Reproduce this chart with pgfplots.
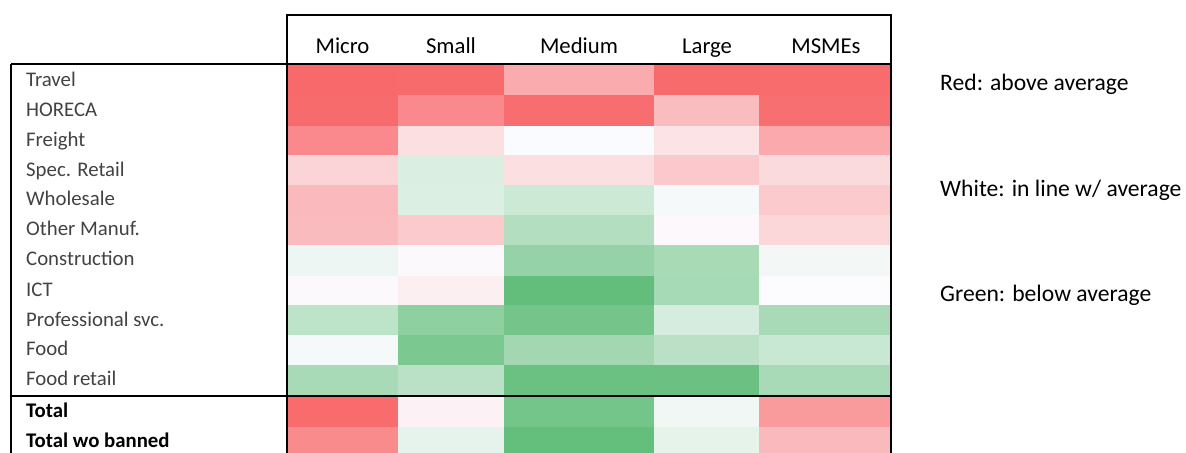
\documentclass[border=0pt]{standalone}
\usepackage{fontspec}
\setmainfont{Carlito}
\usepackage{pgfplots}
\pgfplotsset{compat=1.18}
\tikzset{
  hd/.style={inner sep=0pt, font=\fontsize{22.7bp}{27bp}\selectfont},
  nt/.style={inner sep=0pt, anchor=base west, font=\fontsize{23.6bp}{28bp}\selectfont},
  rl/.style={anchor=base west, inner sep=0pt, text=black!74, font=\fontsize{20.8bp}{25bp}\selectfont},
  rb/.style={anchor=base west, inner sep=0pt, text=black, font=\fontsize{20.8bp}{25bp}\selectfont\bfseries},
}
\begin{document}
\begin{tikzpicture}
\begin{axis}[
  name=ax, at={(0,0)}, anchor=south west,
  width=1186bp, height=452bp, scale only axis,
  xmin=0, xmax=1186, ymin=0, ymax=452, y dir=reverse,
  hide axis,
  colormap={rwg}{rgb255=(99,190,123) rgb255=(252,252,255) rgb255=(248,105,107)},
  point meta min=-1, point meta max=1,
]
% cells: indices of the 4 corners (grid of 6 x 14 vertices) and the value
\addplot [patch, patch type=rectangle, shader=flat, table/row sep=\\,
  patch table with point meta={
   0  1  7  6  1.00\\  1  2  8  7  0.99\\  2  3  9  8  0.55\\  3  4 10  9  0.99\\  4  5 11 10  0.98\\
   6  7 13 12  0.99\\  7  8 14 13  0.78\\  8  9 15 14  0.97\\  9 10 16 15  0.43\\ 10 11 17 16  0.96\\
  12 13 19 18  0.78\\ 13 14 20 19  0.20\\ 14 15 21 20 -0.01\\ 15 16 22 21  0.17\\ 16 17 23 22  0.56\\
  18 19 25 24  0.27\\ 19 20 26 25 -0.22\\ 20 21 27 26  0.20\\ 21 22 28 27  0.35\\ 22 23 29 28  0.23\\
  24 25 31 30  0.45\\ 25 26 32 31 -0.21\\ 26 27 33 32 -0.31\\ 27 28 34 33 -0.04\\ 28 29 35 34  0.34\\
  30 31 37 36  0.44\\ 31 32 38 37  0.34\\ 32 33 39 38 -0.48\\ 33 34 40 39  0.03\\ 34 35 41 40  0.25\\
  36 37 43 42 -0.09\\ 37 38 44 43  0.02\\ 38 39 45 44 -0.67\\ 39 40 46 45 -0.55\\ 40 41 47 46 -0.06\\
  42 43 49 48  0.02\\ 43 44 50 49  0.09\\ 44 45 51 50 -1.00\\ 45 46 52 51 -0.56\\ 46 47 53 52  0.00\\
  48 49 55 54 -0.41\\ 49 50 56 55 -0.71\\ 50 51 57 56 -0.88\\ 51 52 58 57 -0.25\\ 52 53 59 58 -0.54\\
  54 55 61 60 -0.04\\ 55 56 62 61 -0.84\\ 56 57 63 62 -0.59\\ 57 58 64 63 -0.43\\ 58 59 65 64 -0.33\\
  60 61 67 66 -0.54\\ 61 62 68 67 -0.43\\ 62 63 69 68 -0.95\\ 63 64 70 69 -0.95\\ 64 65 71 70 -0.54\\
  66 67 73 72  0.98\\ 67 68 74 73  0.07\\ 68 69 75 74 -0.89\\ 69 70 76 75 -0.08\\ 70 71 77 76  0.67\\
  72 73 79 78  0.77\\ 73 74 80 79 -0.14\\ 74 75 81 80 -0.99\\ 75 76 82 81 -0.15\\ 76 77 83 82  0.45\\
  }]
  table {
  x y\\
  287 64\\ 398 64\\ 504 64\\ 654 64\\ 759 64\\ 891 64\\
  287 95\\ 398 95\\ 504 95\\ 654 95\\ 759 95\\ 891 95\\
  287 126\\ 398 126\\ 504 126\\ 654 126\\ 759 126\\ 891 126\\
  287 155\\ 398 155\\ 504 155\\ 654 155\\ 759 155\\ 891 155\\
  287 185.5\\ 398 185.5\\ 504 185.5\\ 654 185.5\\ 759 185.5\\ 891 185.5\\
  287 215\\ 398 215\\ 504 215\\ 654 215\\ 759 215\\ 891 215\\
  287 245\\ 398 245\\ 504 245\\ 654 245\\ 759 245\\ 891 245\\
  287 276\\ 398 276\\ 504 276\\ 654 276\\ 759 276\\ 891 276\\
  287 305\\ 398 305\\ 504 305\\ 654 305\\ 759 305\\ 891 305\\
  287 335\\ 398 335\\ 504 335\\ 654 335\\ 759 335\\ 891 335\\
  287 365\\ 398 365\\ 504 365\\ 654 365\\ 759 365\\ 891 365\\
  287 395.7\\ 398 395.7\\ 504 395.7\\ 654 395.7\\ 759 395.7\\ 891 395.7\\
  287 426.7\\ 398 426.7\\ 504 426.7\\ 654 426.7\\ 759 426.7\\ 891 426.7\\
  287 458\\ 398 458\\ 504 458\\ 654 458\\ 759 458\\ 891 458\\
  };
% header labels
\node[hd, anchor=base] at (axis cs:342.5,53.5) {Micro};
\node[hd, anchor=base] at (axis cs:451,53.5) {Small};
\node[hd, anchor=base] at (axis cs:579,53.5) {Medium};
\node[hd, anchor=base] at (axis cs:707,53.5) {Large};
\node[hd, anchor=base] at (axis cs:826,53.5) {MSMEs};
\node[nt] at (axis cs:940,90.5) {Red: above average};
\node[nt] at (axis cs:940,196) {White: in line w/ average};
\node[nt] at (axis cs:940,301.5) {Green: below average};
% row labels
\node[rl] at (axis cs:26,86.5) {Travel};
\node[rl] at (axis cs:26,116.5) {HORECA};
\node[rl] at (axis cs:26,146.5) {Freight};
\node[rl] at (axis cs:26,176.5) {Spec. Retail};
\node[rl] at (axis cs:26,205.5) {Wholesale};
\node[rl] at (axis cs:26,235.5) {Other Manuf.};
\node[rl] at (axis cs:26,265.5) {Construction};
\node[rl] at (axis cs:26,296.5) {ICT};
\node[rl] at (axis cs:26,326.5) {Professional svc.};
\node[rl] at (axis cs:26,355.5) {Food};
\node[rl] at (axis cs:26,385.5) {Food retail};
\node[rb] at (axis cs:26,417) {Total};
\node[rb] at (axis cs:26,447) {Total wo banned};
% borders
\draw[line width=2bp] (axis cs:287,460) -- (axis cs:287,15) -- (axis cs:891,15) -- (axis cs:891,460);
\draw[line width=2bp] (axis cs:11,64) -- (axis cs:891,64);
\draw[line width=2bp] (axis cs:11,460) -- (axis cs:11,64);
\draw[line width=2bp] (axis cs:11,395.7) -- (axis cs:891,395.7);
\end{axis}
\pgfresetboundingbox
\path[use as bounding box] (ax.south west) rectangle (ax.north east);
\end{tikzpicture}
\end{document}
